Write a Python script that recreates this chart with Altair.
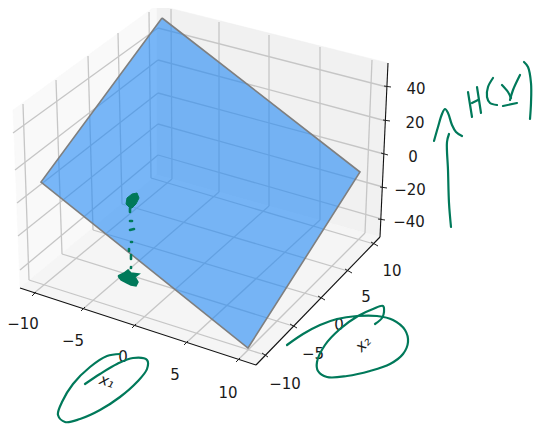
import altair as alt
import pandas as pd

W, H = 525, 416
ORIGIN = 8
INK = "#00795a"

# Panes of the 3D box, read in picture units
left_pane = [(13, 110), (157, 5), (157, 175), (20, 288), (13, 110)]
right_pane = [(157, 5), (388, 63), (380, 237), (157, 175), (157, 5)]
floor_pane = [(20, 288), (157, 175), (380, 237), (256, 365), (20, 288)]

# Grid lines: (x, y, x2, y2)
grid_left_z = [(158, 28, 13, 133), (158, 60, 15, 170), (158, 93, 17, 203), (158, 124, 18, 236), (158, 155, 20, 270)]
grid_right_z = [(158, 28, 387, 87), (158, 60, 386, 121), (158, 93, 384, 154), (158, 124, 383, 187), (158, 155, 382, 219)]
grid_left_v = [(23, 104, 29, 280), (56, 80, 62, 254), (88, 56, 93, 230), (118, 33, 122, 204), (149, 12, 151, 178)]
grid_right_v = [(171, 9, 172, 179), (219, 22, 219, 192), (269, 35, 269, 206), (320, 47, 320, 220), (372, 60, 365, 233)]
grid_floor_a = [(172, 179, 33, 294), (219, 192, 83, 309), (269, 206, 134, 326), (320, 220, 186, 343), (365, 233, 238, 360)]
grid_floor_b = [(29, 280, 265, 355), (62, 254, 293, 326), (93, 230, 321, 298), (122, 204, 348, 271), (151, 178, 374, 244)]

axes_lines = [(20, 288, 256, 365), (256, 365, 380, 237), (380, 237, 388, 63)]
tick_marks = [
    (32, 296, 36, 292), (81, 311, 85, 307), (132, 328, 136, 324), (184, 345, 188, 341), (236, 362, 240, 358),
    (262, 353, 268, 357), (290, 324, 297, 328), (318, 296, 325, 300), (345, 269, 352, 273), (371, 242, 378, 246),
    (384, 86, 391, 87), (383, 120, 390, 121), (381, 153, 388, 155), (380, 187, 387, 188), (378, 219, 385, 220),
]

# Tick labels
x1_ticks = ["\u221210", "\u22125", "0", "5", "10"]
x1_tick_x = [23, 73, 123, 175, 228]
x1_tick_y = [324, 341, 357, 375, 393]
x2_ticks = ["\u221210", "\u22125", "0", "5", "10"]
x2_tick_x = [285, 313, 339, 366, 392]
x2_tick_y = [384, 354, 325, 297, 271]
z_ticks = ["\u221240", "\u221220", "0", "20", "40"]
z_tick_x = [409, 410, 413, 415, 416]
z_tick_y = [222, 190, 157, 123, 89]

# Blue plane
plane = [(162, 18), (360, 172), (248, 348), (41, 182), (162, 18)]

# Ink strokes
ellipse_x1 = [(85, 384), (100, 374), (117, 364), (133, 358), (147, 360), (147, 369), (137, 382), (120, 397),
              (100, 410), (80, 419), (65, 422), (58, 415), (62, 402), (73, 384), (90, 367), (107, 356), (120, 354)]
ellipse_x2 = [(287, 345), (303, 334), (320, 325), (337, 319), (357, 316), (377, 316), (393, 320), (405, 330),
              (408, 342), (403, 354), (390, 364), (370, 371), (347, 376), (327, 377), (318, 371), (317, 362),
              (325, 345), (340, 329), (358, 316), (373, 309), (383, 306), (384, 312), (382, 318), (375, 324)]
arrow_hat = [(434, 141), (438, 127), (442, 114), (445, 109), (448, 113), (452, 125), (456, 132), (462, 136)]
arrow_shaft = [(449, 134), (447, 142), (448, 170), (449, 203), (451, 227)]
h_left = [(468, 92), (472, 117)]
h_right = [(477, 87), (481, 113)]
h_bar = [(472, 103), (478, 100)]
paren_open = [(493, 78), (488, 87), (487, 97), (490, 103), (497, 105)]
y_a = [(502, 85), (508, 92), (511, 98)]
y_b = [(520, 75), (513, 90), (510, 100)]
y_under = [(503, 106), (517, 103)]
paren_close = [(524, 62), (528, 67), (531, 83), (531, 103), (530, 119)]
strokes = [ellipse_x1, ellipse_x2, arrow_hat, arrow_shaft, h_left, h_right, h_bar,
           paren_open, y_a, y_b, y_under, paren_close]

blob_top = [(130, 208), (126, 204), (127, 198), (132, 194), (137, 193), (139, 198), (136, 204), (132, 208), (130, 208)]
blob_low = [(118, 276), (124, 273), (128, 270), (131, 273), (139, 274), (135, 277), (138, 282), (136, 286),
            (131, 285), (127, 283), (121, 280), (118, 276)]
dots = [[(130, 208), (130, 212)], [(130, 221), (132, 221)], [(130, 230), (134, 229)], [(131, 242), (132, 242)],
        [(129, 249), (129, 251)], [(131, 255), (131, 259)], [(131, 267), (131, 268)]]

X = alt.X("x:Q", scale=alt.Scale(domain=[ORIGIN, ORIGIN + W], range=[0, W], nice=False, zero=False), axis=None)
Y = alt.Y("y:Q", scale=alt.Scale(domain=[ORIGIN, ORIGIN + H], range=[0, H], nice=False, zero=False), axis=None)


def path_frame(points):
    return pd.DataFrame({"x": [p[0] for p in points], "y": [p[1] for p in points], "o": list(range(len(points)))})


def polygon(points, **mark):
    return alt.Chart(path_frame(points)).mark_line(**mark).encode(x=X, y=Y, order="o:Q")


def segments(rows, color, width):
    df = pd.DataFrame(rows, columns=["x", "y", "x2", "y2"])
    return alt.Chart(df).mark_rule(color=color, strokeWidth=width).encode(x=X, y=Y, x2="x2:Q", y2="y2:Q")


def labels(texts, xs, ys, size=15):
    df = pd.DataFrame({"x": xs, "y": ys, "t": texts})
    return alt.Chart(df).mark_text(font="DejaVu Sans", fontSize=size, color="#1a1a1a", align="center",
                                   baseline="middle").encode(x=X, y=Y, text="t:N")


def axis_title(text, x, y, angle):
    df = pd.DataFrame({"x": [x], "y": [y], "t": [text]})
    return alt.Chart(df).mark_text(font="DejaVu Sans", fontStyle="italic", fontSize=15, color="#1a1a1a",
                                   align="center", baseline="middle", angle=angle).encode(x=X, y=Y, text="t:N")


layers = [
    polygon(left_pane, fill="#f9f9f9", stroke="#f9f9f9", strokeWidth=0.5),
    polygon(right_pane, fill="#f1f1f1", stroke="#f1f1f1", strokeWidth=0.5),
    polygon(floor_pane, fill="#f5f5f5", stroke="#f5f5f5", strokeWidth=0.5),
]
for g in [grid_left_z, grid_right_z, grid_left_v, grid_right_v, grid_floor_a, grid_floor_b]:
    layers.append(segments(g, "#c6c6c6", 1.3))
layers += [
    segments(axes_lines, "#111111", 1.1),
    segments(tick_marks, "#222222", 1.0),
    polygon(plane, fill="#2188f5", fillOpacity=0.6, stroke="#808080", strokeOpacity=0, strokeWidth=0),
    polygon(plane, stroke="#7f7f7f", strokeWidth=1.6),
    labels(x1_ticks, x1_tick_x, x1_tick_y),
    labels(x2_ticks, x2_tick_x, x2_tick_y),
    labels(z_ticks, z_tick_x, z_tick_y),
    axis_title("x\u2081", 107, 381, 18),
    axis_title("x\u2082", 363, 344, 314),
]
for s in strokes:
    layers.append(polygon(s, stroke=INK, strokeWidth=2.2, interpolate="catmull-rom", strokeCap="round",
                          strokeJoin="round"))
layers.append(polygon(blob_top, fill=INK, stroke=INK, strokeWidth=1))
layers.append(polygon(blob_low, fill=INK, stroke=INK, strokeWidth=1.5))
for d in dots:
    layers.append(polygon(d, stroke=INK, strokeWidth=2.6, strokeCap="round"))

chart = alt.layer(*layers).properties(width=W, height=H, padding=0, autosize="none").configure_view(stroke=None)
chart.save("out.html", embed_options={"renderer": "svg", "actions": False})
